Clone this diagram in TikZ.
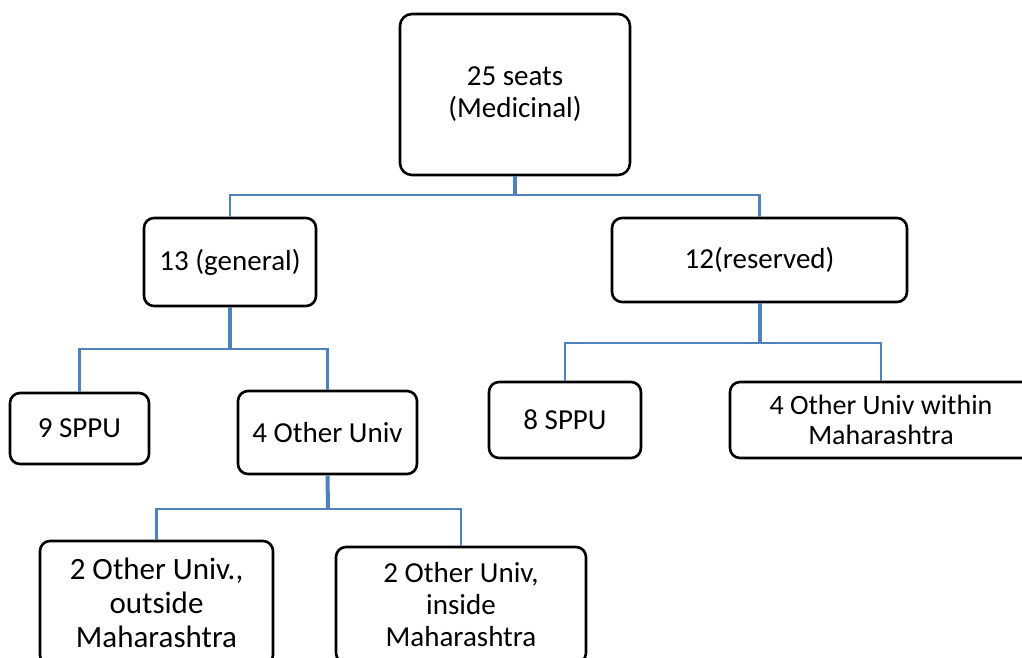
\documentclass[tikz,border=0pt]{standalone}
\usepackage{fontspec}
\setmainfont{Carlito}
\definecolor{linkblue}{RGB}{79,129,189}
\begin{document}
\begin{tikzpicture}[x=1pt,y=-1pt,
  box/.style={draw=black, line width=2.6pt, rounded corners=10pt, fill=white,
    align=center, inner sep=0pt, font=\fontsize{29}{32}\selectfont},
  stem/.style={draw=linkblue, line width=4pt},
  link/.style={draw=linkblue, line width=2.8pt},
]
\useasboundingbox (0,0) rectangle (1022,658);
\clip (0,0) rectangle (1022,658);
\fill[white] (0,0) rectangle (1022,658);

\node[box, rounded corners=12pt, minimum width=230pt, minimum height=161pt] (top) at (515,94.5) {25 seats\\(Medicinal)};
\node[box, minimum width=172pt, minimum height=88pt] (gen) at (230,262) {13 (general)};
\node[box, minimum width=295pt, minimum height=84pt] (res) at (759.5,260) {12(reserved)};
\node[box, minimum width=139pt, minimum height=71pt] (s9) at (79.5,428.5) {9 SPPU};
\node[box, minimum width=179pt, minimum height=83pt] (o4) at (327.5,432.5) {4 Other Univ};
\node[box, minimum width=152pt, minimum height=76pt] (s8) at (565,420) {8 SPPU};
\node[box, minimum width=302pt, minimum height=76pt, font=\fontsize{28}{30}\selectfont] (w4) at (881,420) {4 Other Univ within\\Maharashtra};
\node[box, minimum width=233pt, minimum height=124pt, font=\fontsize{31}{34}\selectfont] (bl) at (156.5,603) {2 Other Univ.,\\outside\\Maharashtra};
\node[box, minimum width=250pt, minimum height=116pt, font=\fontsize{29}{32}\selectfont] (br) at (461,605) {2 Other Univ,\\inside\\Maharashtra};

\coordinate (j1) at (515,195);
\coordinate (j2) at (230,349);
\coordinate (j3) at (759.5,343);
\coordinate (j4) at (328,509);

\draw[link] (gen.north) |- (j1) -| (res.north);
\draw[stem] (top.south) -- (j1);
\draw[link] (s9.north) |- (j2) -| (o4.north);
\draw[stem] (gen.south) -- (j2);
\draw[link] (s8.north) |- (j3) -| (w4.north);
\draw[stem] (res.south) -- (j3);
\draw[link] (bl.north) |- (j4) -| (br.north);
\draw[stem] (o4.south) -- (j4);
\end{tikzpicture}
\end{document}
